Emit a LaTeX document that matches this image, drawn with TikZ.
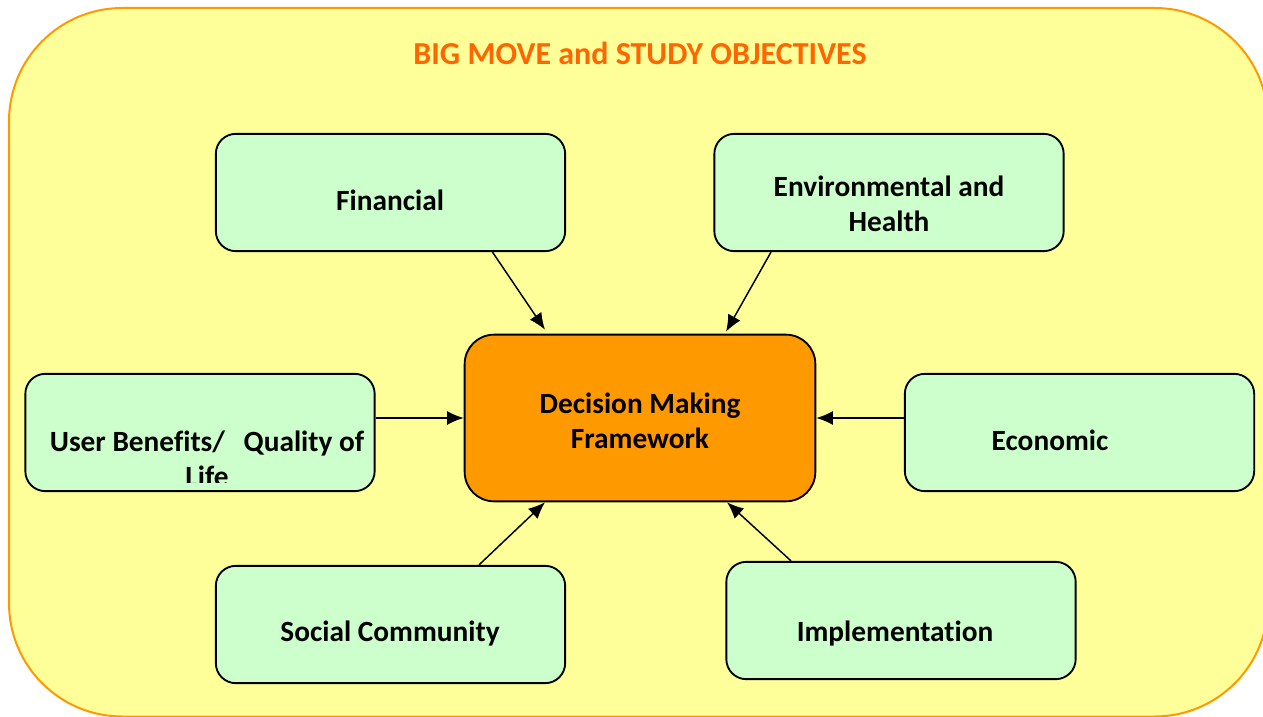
\documentclass[tikz,border=0pt]{standalone}
\usepackage{fontspec}
\setmainfont{Carlito}[Ligatures=NoCommon]
\usetikzlibrary{arrows.meta,calc}
\definecolor{bgyellow}{HTML}{FFFF99}
\definecolor{boxgreen}{HTML}{CCFFCC}
\definecolor{dmforange}{HTML}{FF9900}
\definecolor{titleorange}{HTML}{FF6600}
\tikzset{
  greenbox/.style={draw,line width=1.4pt,rounded corners=15pt,fill=boxgreen,
    minimum width=262pt,minimum height=88pt},
  boxtext/.style={align=center,font=\fontsize{22}{26.5}\selectfont\bfseries},
  arr/.style={-{Latex[length=12.5pt,width=10.5pt]},line width=1.1pt}
}
\begin{document}
\begin{tikzpicture}[x=0.75pt,y=-0.75pt]
  \useasboundingbox (0,0) rectangle (1263,717);
  \clip (0,0) rectangle (1263,717);
  \draw[draw=dmforange,line width=1.5pt,fill=bgyellow,rounded corners=85pt] (9,8) rectangle (1268,716.5);
  \node[font=\fontsize{24}{28}\selectfont\bfseries,text=titleorange] (title) at (640,53) {BIG MOVE and STUDY OBJECTIVES};
  % boxes
  \node[greenbox] (fin) at (390.5,192.5) {};
  \node[greenbox] (env) at (889,192.5) {};
  \node[greenbox] (user) at (200,432.5) {};
  \node[greenbox] (eco) at (1079.5,432.5) {};
  \node[greenbox] (soc) at (390.5,624.5) {};
  \node[greenbox] (impl) at (901,620.5) {};
  \node[draw,line width=1.4pt,rounded corners=22pt,fill=dmforange,minimum width=263pt,minimum height=125pt] (dmf) at (640,418) {};
  % texts
  \node[boxtext] (fintext) at (390,200.5) {Financial};
  \node[boxtext] (envtext) at (889,203.5) {Environmental and\\Health};
  \node[boxtext] (dmftext) at (640,420.5) {Decision Making\\Framework};
  \node[boxtext] (ecotext) at (1050,440) {Economic};
  \node[boxtext] (soctext) at (390,634) {Social Community};
  \node[boxtext] (impltext) at (895,634) {Implementation};
  \begin{scope}
    \clip (user.north west) rectangle ([yshift=7.5pt]user.south east);
    \node[boxtext] (usertext) at (207,459) {User Benefits/\hspace{14pt}Quality of\\Life};
  \end{scope}
  % arrows
  \draw[arr] (fin.south) ++(102,0) -- ($(dmf.north)+(-95,-4)$);
  \draw[arr] (env.south) ++(-118,0) -- ($(dmf.north)+(86,-2)$);
  \draw[arr] (user.east |- dmf.west) -- (dmf.west);
  \draw[arr] (eco.west |- dmf.east) -- (dmf.east);
  \draw[arr] (soc.north) ++(88.5,0) -- ($(dmf.south)+(-95,0)$);
  \draw[arr] (impl.north) ++(-110,0) -- ($(dmf.south)+(87,0)$);
\end{tikzpicture}
\end{document}
